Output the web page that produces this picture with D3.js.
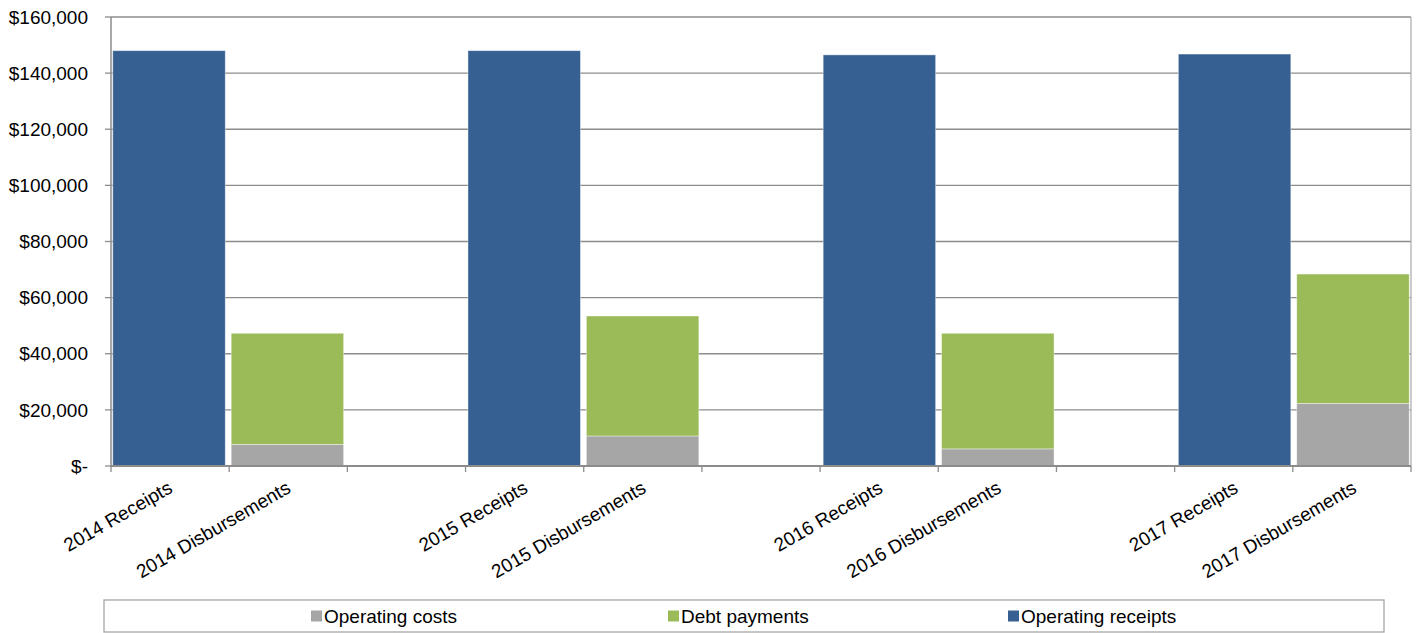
<!DOCTYPE html>
<html>
<head>
<meta charset="utf-8">
<script src="https://cdn.jsdelivr.net/npm/d3@7"></script>
<style>
  body { margin: 0; background: #fff; }
  svg { font-family: "Liberation Sans", Arial, sans-serif; }
</style>
</head>
<body>
<svg id="chart" width="1418" height="633"></svg>
<script>
const categories = ["2014 Receipts", "2014 Disbursements", "", "2015 Receipts", "2015 Disbursements", "",
                    "2016 Receipts", "2016 Disbursements", "", "2017 Receipts", "2017 Disbursements"];
const operatingCosts    = [0, 7700, 0, 0, 10700, 0, 0, 6100, 0, 0, 22300];
const debtPayments      = [0, 39600, 0, 0, 42750, 0, 0, 41200, 0, 0, 46100];
const operatingReceipts = [148000, 0, 0, 148000, 0, 0, 146500, 0, 0, 146800, 0];
const seriesNames  = ["Operating costs", "Debt payments", "Operating receipts"];
const seriesColors = ["#A6A6A6", "#9BBB59", "#376092"];
const yTicks = [0, 20000, 40000, 60000, 80000, 100000, 120000, 140000, 160000];

const svg = d3.select("#chart");
const pLeft = 111, pRight = 1411, pTop = 17, pBottom = 466;

const rows = categories.map((c, i) => ({
  idx: i,
  "Operating costs": operatingCosts[i],
  "Debt payments": debtPayments[i],
  "Operating receipts": operatingReceipts[i]
}));

const x = d3.scaleBand().domain(d3.range(categories.length)).range([pLeft, pRight])
  .paddingInner(0.05).paddingOuter(0.015);
const xb = d3.scaleLinear().domain([0, categories.length]).range([pLeft, pRight]);
const y = d3.scaleLinear().domain([0, 160000]).range([pBottom, pTop]);

// gridlines
svg.append("g").selectAll("line").data(yTicks.filter(t => t > 0)).join("line")
  .attr("x1", pLeft).attr("x2", pRight)
  .attr("y1", d => y(d)).attr("y2", d => y(d))
  .attr("stroke", "#8c8c8c").attr("stroke-width", 1.3);

// plot border (right)
svg.append("line").attr("x1", pRight).attr("x2", pRight).attr("y1", pTop).attr("y2", pBottom)
  .attr("stroke", "#b0b0b0").attr("stroke-width", 1.3);

// bars
const stack = d3.stack().keys(seriesNames)(rows);
svg.append("g").selectAll("g").data(stack).join("g")
  .attr("fill", (d, i) => seriesColors[i])
  .selectAll("rect").data(d => d.filter(p => p[1] - p[0] > 0)).join("rect")
  .attr("x", d => x(d.data.idx))
  .attr("width", x.bandwidth())
  .attr("y", d => y(d[1]))
  .attr("height", d => y(d[0]) - y(d[1]))
  .attr("stroke", "rgba(255,255,255,0.5)").attr("stroke-width", 0.8);

// y axis
svg.append("line").attr("x1", pLeft).attr("x2", pLeft).attr("y1", pTop).attr("y2", pBottom + 1)
  .attr("stroke", "#8c8c8c").attr("stroke-width", 1.5);
svg.append("g").selectAll("line").data(yTicks).join("line")
  .attr("x1", pLeft - 6).attr("x2", pLeft).attr("y1", d => y(d)).attr("y2", d => y(d))
  .attr("stroke", "#8c8c8c").attr("stroke-width", 1.3);
const fmt = d => d === 0 ? "$-" : "$" + d3.format(",")(d);
svg.append("g").selectAll("text").data(yTicks).join("text")
  .attr("x", 88).attr("y", d => y(d)).attr("dy", "0.35em")
  .attr("text-anchor", "end").attr("font-size", 19).attr("fill", "#000")
  .text(fmt);

// x axis
svg.append("line").attr("x1", pLeft).attr("x2", pRight).attr("y1", pBottom).attr("y2", pBottom)
  .attr("stroke", "#8c8c8c").attr("stroke-width", 2);
svg.append("g").selectAll("line").data(d3.range(categories.length + 1)).join("line")
  .attr("x1", d => xb(d)).attr("x2", d => xb(d)).attr("y1", pBottom).attr("y2", pBottom + 6)
  .attr("stroke", "#8c8c8c").attr("stroke-width", 1.3);
svg.append("g").selectAll("text").data(categories.map((c, i) => ({c, i})).filter(d => d.c)).join("text")
  .attr("transform", d => `translate(${x(d.i) + x.bandwidth() / 2 - 2},${pBottom + 14}) rotate(-30)`)
  .attr("text-anchor", "end").attr("dy", "0.7em")
  .attr("font-size", 19).attr("fill", "#000")
  .text(d => d.c);

// legend
const lg = svg.append("g");
lg.append("rect").attr("x", 104).attr("y", 600).attr("width", 1280).attr("height", 32)
  .attr("fill", "#fff").attr("stroke", "#a6a6a6").attr("stroke-width", 1.3);
const legendX = [311, 668, 1008];
const items = lg.selectAll("g").data(seriesNames).join("g")
  .attr("transform", (d, i) => `translate(${legendX[i]},616)`);
items.append("rect").attr("x", 0).attr("y", -5.5).attr("width", 11).attr("height", 11)
  .attr("fill", (d, i) => seriesColors[i]);
items.append("text").attr("x", 13).attr("dy", "0.35em").attr("font-size", 19).attr("fill", "#000")
  .text(d => d);
</script>
</body>
</html>
